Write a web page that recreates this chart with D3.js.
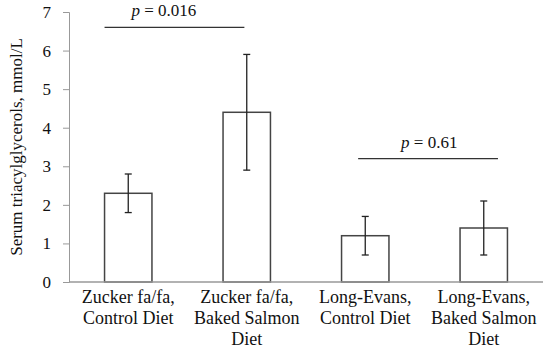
<!DOCTYPE html>
<html>
<head>
<meta charset="utf-8">
<script src="https://cdn.jsdelivr.net/npm/d3@7"></script>
<style>
  body { margin: 0; background: #fff; }
  svg text { fill: #111; }
</style>
</head>
<body>
<div id="chart"></div>
<script>
// Serum TG by group
const groups = [
  ["Zucker fa/fa,", "Control Diet"],
  ["Zucker fa/fa,", "Baked Salmon", "Diet"],
  ["Long-Evans,", "Control Diet"],
  ["Long-Evans,", "Baked Salmon", "Diet"]
];
const means = [2.3, 4.4, 1.2, 1.4];
const errLow = [1.8, 2.9, 0.7, 0.7];
const errHigh = [2.8, 5.9, 1.7, 2.1];
const yTicks = [0, 1, 2, 3, 4, 5, 6, 7];

// significance lines, in group-index units (0 = centre of first group)
const pLabels = ["0.016", "0.61"];
const pLevel = [6.6, 3.2];
const pFrom = [-0.2, 1.94];
const pTo = [0.98, 3.12];
const pTextAt = [0.3, 2.54];

const width = 550, height = 352;
const margin = { top: 12, right: 7, bottom: 70, left: 69 };
const font = "Liberation Serif, serif";

const svg = d3.select("#chart").append("svg")
  .attr("width", width)
  .attr("height", height);

const x = d3.scaleBand()
  .domain(d3.range(groups.length))
  .range([margin.left, width - margin.right])
  .paddingInner(0.6)
  .paddingOuter(0.3);

const y = d3.scaleLinear()
  .domain([0, 7])
  .range([height - margin.bottom, margin.top]);

const mid = i => x(i) + x.bandwidth() / 2;
// fractional group index -> px
const gx = d3.scaleLinear().domain([0, 3]).range([mid(0), mid(3)]);

// y axis
const yAxis = svg.append("g")
  .attr("transform", `translate(${margin.left},0)`)
  .call(d3.axisLeft(y).tickValues(yTicks).tickFormat(d3.format("d")).tickSize(6).tickPadding(12));
yAxis.attr("font-family", font);
yAxis.select(".domain").attr("stroke", "#999");
yAxis.selectAll(".tick line").attr("stroke", "#999");
yAxis.selectAll(".tick text").attr("font-size", 17).attr("fill", "#111");

// bars
svg.append("g").selectAll("rect")
  .data(means)
  .join("rect")
  .attr("x", (d, i) => x(i))
  .attr("y", d => y(d))
  .attr("width", x.bandwidth())
  .attr("height", d => y(0) - y(d))
  .attr("fill", "#fff")
  .attr("stroke", "#444")
  .attr("stroke-width", 1.5);

// x axis line (drawn over bar bottoms)
svg.append("line")
  .attr("x1", margin.left).attr("x2", width - margin.right)
  .attr("y1", y(0)).attr("y2", y(0))
  .attr("stroke", "#999").attr("stroke-width", 1.5);

// error bars
const eb = svg.append("g").attr("stroke", "#222").attr("stroke-width", 1.3);
means.forEach((m, i) => {
  const cx = mid(i);
  eb.append("line").attr("x1", cx).attr("x2", cx).attr("y1", y(errLow[i])).attr("y2", y(errHigh[i]));
  [errLow[i], errHigh[i]].forEach(v => {
    eb.append("line").attr("x1", cx - 3.5).attr("x2", cx + 3.5).attr("y1", y(v)).attr("y2", y(v));
  });
});

// x labels
groups.forEach((lines, i) => {
  const t = svg.append("text")
    .attr("x", mid(i))
    .attr("y", y(0) + 21)
    .attr("text-anchor", "middle")
    .attr("font-family", font)
    .attr("font-size", 18);
  lines.forEach((l, j) => {
    t.append("tspan").attr("x", mid(i)).attr("dy", j === 0 ? 0 : 21).text(l);
  });
});

// p-value lines
pLabels.forEach((lab, k) => {
  svg.append("line")
    .attr("x1", gx(pFrom[k])).attr("x2", gx(pTo[k]))
    .attr("y1", y(pLevel[k])).attr("y2", y(pLevel[k]))
    .attr("stroke", "#333").attr("stroke-width", 1.3);
  const t = svg.append("text")
    .attr("x", gx(pTextAt[k]))
    .attr("y", y(pLevel[k]) - 11)
    .attr("text-anchor", "middle")
    .attr("font-family", font)
    .attr("font-size", 17);
  t.append("tspan").attr("font-style", "italic").text("p");
  t.append("tspan").text(" = " + lab);
});

// y title
svg.append("text")
  .attr("transform", `translate(22,${(y(0) + y(7)) / 2}) rotate(-90)`)
  .attr("text-anchor", "middle")
  .attr("font-family", font)
  .attr("font-size", 17)
  .text("Serum triacylglycerols, mmol/L");
</script>
</body>
</html>
